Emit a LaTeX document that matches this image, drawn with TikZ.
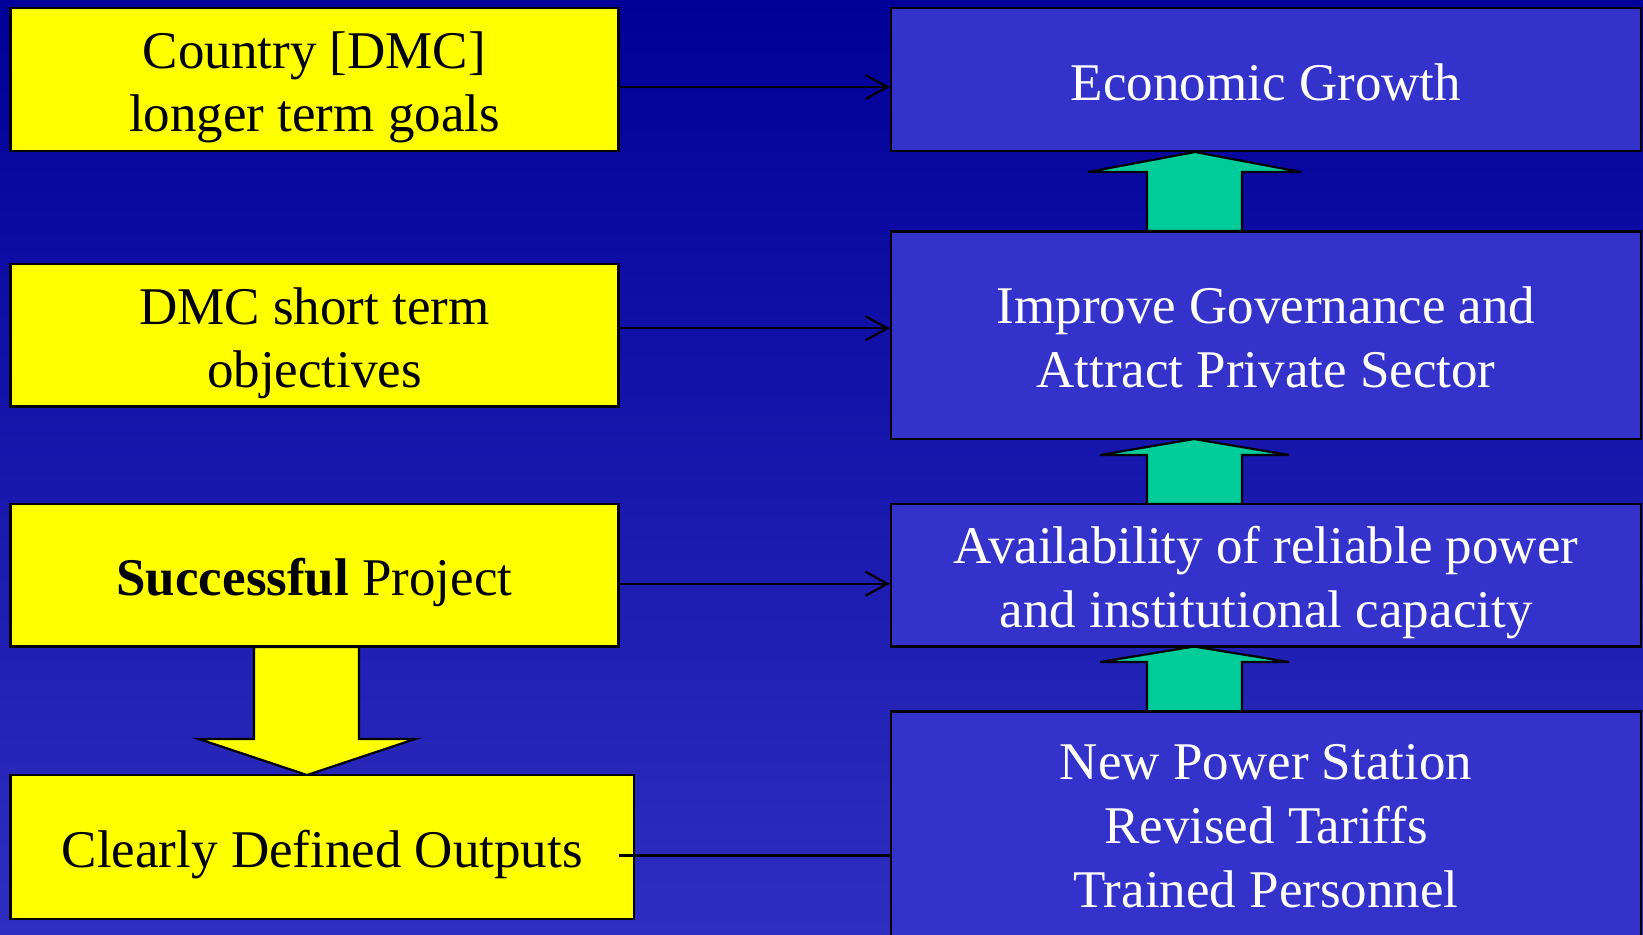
\documentclass[tikz,border=0pt]{standalone}
\usepackage{fontspec}
\setmainfont{Liberation Serif}
\usetikzlibrary{arrows.meta}
\definecolor{bgtop}{RGB}{0,0,153}
\definecolor{bgbot}{RGB}{46,46,192}
\definecolor{boxblue}{RGB}{51,51,204}
\definecolor{upgreen}{RGB}{0,204,153}
\definecolor{boxyellow}{RGB}{255,255,0}
\newcommand{\mytopstrut}{\rule{0pt}{53pt}}
\newcommand{\mybotstrut}{\rule[-12pt]{0pt}{12pt}}
\tikzset{
  boxtext/.style={align=center, inner sep=0pt, execute at end node=\mybotstrut},
  ybox/.style={boxtext, draw=black, line width=2.5pt, fill=boxyellow, text=black,
    font=\fontsize{53}{63}\selectfont},
  bbox/.style={boxtext, draw=black, line width=2.5pt, fill=boxblue, text=white,
    font=\fontsize{53}{64}\selectfont},
  conn/.style={draw=black, line width=2.2pt,
    -{Straight Barb[length=22pt,width=24pt,line width=2.2pt]}},
  plainconn/.style={draw=black, line width=2.2pt},
  uparrow/.style={draw=black, line width=2.2pt, fill=upgreen},
  downarrow/.style={draw=black, line width=2.2pt, fill=boxyellow},
}
\begin{document}
\begin{tikzpicture}[x=1pt,y=-1pt]
\useasboundingbox (0,0) rectangle (1643,934);
\shade[top color=bgtop, bottom color=bgbot] (0,0) rectangle (1643,934);

% block arrows
\draw[uparrow] (1147,231) -- (1147,172) -- (1088,172) -- (1195,152) -- (1301,172) -- (1242,172) -- (1242,231) -- cycle;
\draw[uparrow] (1147,504) -- (1147,455) -- (1100,455) -- (1194,439) -- (1289,455) -- (1242,455) -- (1242,504) -- cycle;
\draw[uparrow] (1147,711.5) -- (1147,662) -- (1100,662) -- (1194,646.5) -- (1289,662) -- (1242,662) -- (1242,711.5) -- cycle;
\draw[downarrow] (254,647) -- (254,739) -- (199,739) -- (307,775) -- (415,739) -- (359,739) -- (359,647) -- cycle;

% left boxes
\node[ybox, minimum width=608pt, minimum height=143pt] (y1) at (314.5,79.5) {\mytopstrut Country [DMC]\\longer term goals};
\node[ybox, minimum width=608pt, minimum height=142.5pt] (y2) at (314.5,335.25) {\mytopstrut DMC short term\\objectives};
\node[ybox, minimum width=608pt, minimum height=142.5pt] (y3) at (314.5,575.25) {\mytopstrut\textbf{Successful} Project};
\node[ybox, minimum width=623.5pt, minimum height=144pt] (y4) at (322.25,847) {\mytopstrut Clearly Defined Outputs};

% right boxes
\node[bbox, minimum width=750pt, minimum height=143pt] (r1) at (1266,79.5) {\mytopstrut Economic Growth};
\node[bbox, minimum width=750pt, minimum height=207.5pt] (r2) at (1266,335.25) {\mytopstrut Improve Governance and\\Attract Private Sector};
\node[bbox, minimum width=750pt, minimum height=142.5pt] (r3) at (1266,575.25) {\mytopstrut Availability of reliable power\\and institutional capacity};
\node[bbox, minimum width=750pt, minimum height=243pt] (r4) at (1266,833) {\mytopstrut New Power Station\\Revised Tariffs\\Trained Personnel\rule[-32pt]{0pt}{32pt}};

% connectors
\draw[conn] ([yshift=-7.5pt]y1.east) -- ([yshift=-7.5pt]r1.west);
\draw[conn] ([yshift=7pt]y2.east) -- ([yshift=7pt]r2.west);
\draw[conn] ([yshift=-8.5pt]y3.east) -- ([yshift=-8.5pt]r3.west);
\coordinate (s4) at (619,855.5);
\draw[plainconn] (s4) -- (r4.west |- s4);
\end{tikzpicture}
\end{document}
